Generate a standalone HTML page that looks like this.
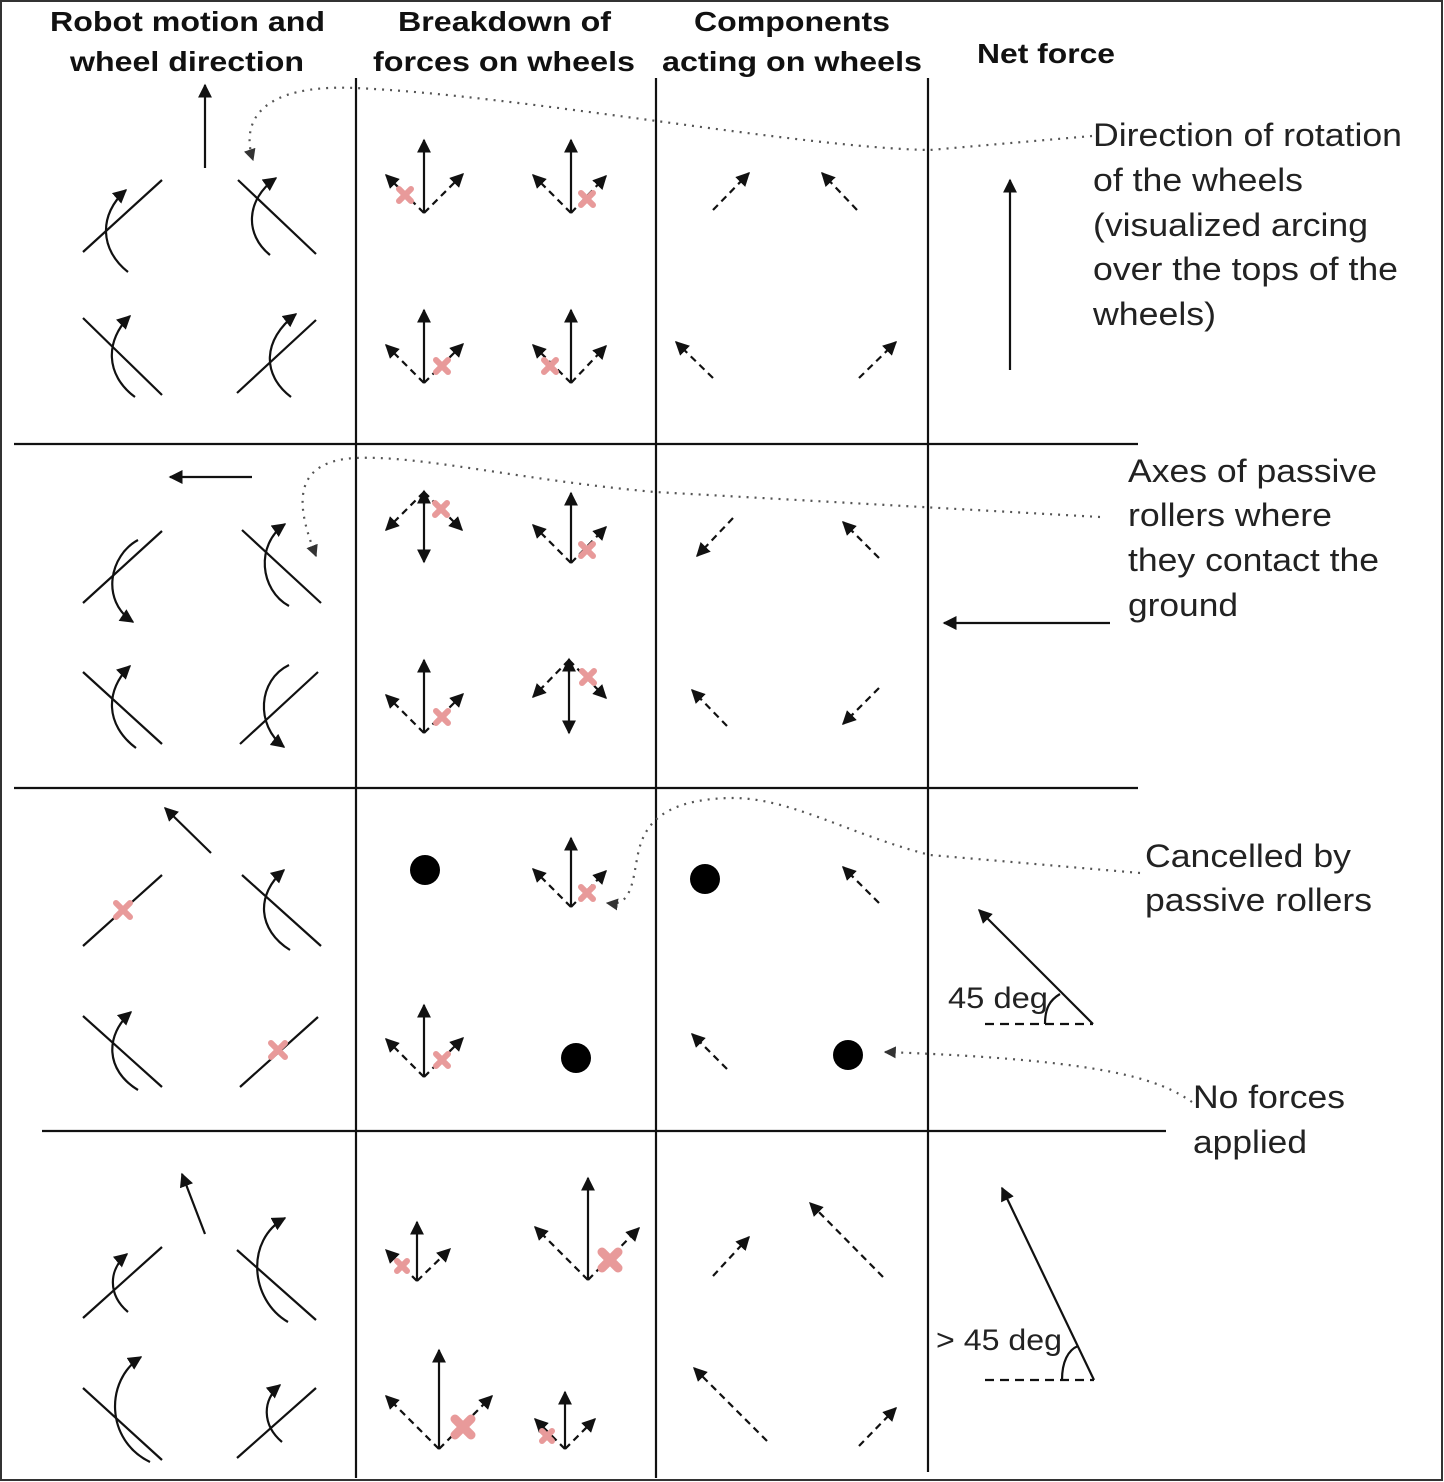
<!DOCTYPE html>
<html><head><meta charset="utf-8"><style>
html,body{margin:0;padding:0;background:#fff;}
svg{display:block;}
.h{font-family:"Liberation Sans",sans-serif;font-weight:bold;font-size:28px;fill:#111;}
.t{font-family:"Liberation Sans",sans-serif;font-size:32px;fill:#222;}
.s{font-family:"Liberation Sans",sans-serif;font-size:30px;fill:#222;}
.ln{stroke:#111;stroke-width:2.2;fill:none;}
.ar{stroke:#111;stroke-width:2.2;fill:none;marker-end:url(#ah);}
.da{stroke:#111;stroke-width:2.2;fill:none;stroke-dasharray:7,5;marker-end:url(#ah);}
.dot{stroke:#555;stroke-width:2.2;fill:none;stroke-dasharray:2,6;}
.px{stroke:#e89a9a;stroke-width:6;stroke-linecap:round;}
.pxl{stroke:#e89a9a;stroke-width:9;stroke-linecap:round;}
</style></head><body>
<svg width="1444" height="1482" viewBox="0 0 1444 1482" xmlns="http://www.w3.org/2000/svg">
<defs>
<marker id="ah" viewBox="0 0 10 10" refX="9" refY="5" markerWidth="14" markerHeight="14" markerUnits="userSpaceOnUse" orient="auto"><path d="M0,0 L10,5 L0,10 z" fill="#111"/></marker>
<marker id="ah2" viewBox="0 0 10 10" refX="9" refY="5" markerWidth="12" markerHeight="12" markerUnits="userSpaceOnUse" orient="auto"><path d="M0,0 L10,5 L0,10 z" fill="#333"/></marker>
</defs>
<rect x="1" y="1" width="1441" height="1479" fill="none" stroke="#333" stroke-width="2"/>
<!-- headers -->
<text class="h" x="50" y="31" textLength="275" lengthAdjust="spacingAndGlyphs">Robot motion and</text>
<text class="h" x="70" y="71" textLength="234" lengthAdjust="spacingAndGlyphs">wheel direction</text>
<text class="h" x="398" y="31" textLength="213" lengthAdjust="spacingAndGlyphs">Breakdown of</text>
<text class="h" x="373" y="71" textLength="262" lengthAdjust="spacingAndGlyphs">forces on wheels</text>
<text class="h" x="694" y="31" textLength="196" lengthAdjust="spacingAndGlyphs">Components</text>
<text class="h" x="662" y="71" textLength="260" lengthAdjust="spacingAndGlyphs">acting on wheels</text>
<text class="h" x="977" y="63" textLength="138" lengthAdjust="spacingAndGlyphs">Net force</text>
<!-- grid -->
<line class="ln" x1="356" y1="78" x2="356" y2="1478"/>
<line class="ln" x1="656" y1="78" x2="656" y2="1478"/>
<line class="ln" x1="928" y1="78" x2="928" y2="1472"/>
<line class="ln" x1="14" y1="444" x2="1138" y2="444"/>
<line class="ln" x1="14" y1="788" x2="1138" y2="788"/>
<line class="ln" x1="42" y1="1131" x2="1166" y2="1131"/>

<!-- ROW 1 wheels -->
<line class="ar" x1="205" y1="168" x2="205" y2="85"/>
<line class="ln" x1="83" y1="252" x2="162" y2="180"/>
<path class="ar" d="M128,272 C100,250 98,215 126,190"/>
<line class="ln" x1="238" y1="180" x2="316" y2="254"/>
<path class="ar" d="M270,255 C245,235 245,200 276,178"/>
<line class="ln" x1="83" y1="318" x2="162" y2="395"/>
<path class="ar" d="M135,397 C105,375 105,340 130,316"/>
<line class="ln" x1="237" y1="393" x2="316" y2="320"/>
<path class="ar" d="M291,397 C262,375 262,340 296,314"/>
<!-- ROW 2 wheels -->
<line class="ar" x1="252" y1="477" x2="170" y2="477"/>
<line class="ln" x1="83" y1="603" x2="162" y2="531"/>
<path class="ar" d="M138,540 C110,555 100,600 133,622"/>
<line class="ln" x1="242" y1="530" x2="321" y2="603"/>
<path class="ar" d="M289,606 C260,590 255,545 285,524"/>
<line class="ln" x1="83" y1="672" x2="162" y2="744"/>
<path class="ar" d="M136,748 C105,725 105,690 130,666"/>
<line class="ln" x1="240" y1="744" x2="318" y2="672"/>
<path class="ar" d="M289,665 C258,680 255,725 284,747"/>
<!-- ROW 3 wheels -->
<line class="ar" x1="211" y1="853" x2="165" y2="808"/>
<line class="ln" x1="83" y1="946" x2="162" y2="875"/>
<g class="px"><line x1="116" y1="903" x2="130" y2="917"/><line x1="130" y1="903" x2="116" y2="917"/></g>
<line class="ln" x1="242" y1="875" x2="321" y2="946"/>
<path class="ar" d="M290,950 C258,930 255,895 284,870"/>
<line class="ln" x1="83" y1="1016" x2="162" y2="1087"/>
<path class="ar" d="M138,1090 C105,1070 105,1035 131,1012"/>
<line class="ln" x1="240" y1="1087" x2="318" y2="1017"/>
<g class="px"><line x1="271" y1="1043" x2="285" y2="1057"/><line x1="285" y1="1043" x2="271" y2="1057"/></g>
<!-- ROW 4 wheels -->
<line class="ar" x1="205" y1="1234" x2="182" y2="1174"/>
<line class="ln" x1="83" y1="1318" x2="162" y2="1247"/>
<path class="ar" d="M128,1312 C108,1295 108,1270 127,1254"/>
<line class="ln" x1="237" y1="1250" x2="316" y2="1320"/>
<path class="ar" d="M288,1322 C250,1300 245,1240 285,1218"/>
<line class="ln" x1="83" y1="1388" x2="162" y2="1460"/>
<path class="ar" d="M150,1462 C105,1440 105,1380 141,1357"/>
<line class="ln" x1="237" y1="1458" x2="316" y2="1388"/>
<path class="ar" d="M282,1442 C262,1425 262,1400 280,1385"/>

<!-- BREAKDOWN clusters -->
<line class="ar" x1="424" y1="213" x2="424" y2="140"/><line class="da" x1="424" y1="213" x2="386" y2="175"/><line class="da" x1="424" y1="213" x2="463" y2="174"/>
<g class="px"><line x1="399" y1="189" x2="411" y2="201"/><line x1="411" y1="189" x2="399" y2="201"/></g>
<line class="ar" x1="571" y1="213" x2="571" y2="140"/><line class="da" x1="571" y1="213" x2="533" y2="175"/><line class="da" x1="571" y1="213" x2="606" y2="176"/>
<g class="px"><line x1="581" y1="193" x2="593" y2="205"/><line x1="593" y1="193" x2="581" y2="205"/></g>
<line class="ar" x1="424" y1="383" x2="424" y2="310"/><line class="da" x1="424" y1="383" x2="386" y2="345"/><line class="da" x1="424" y1="383" x2="463" y2="344"/>
<g class="px"><line x1="436" y1="360" x2="448" y2="372"/><line x1="448" y1="360" x2="436" y2="372"/></g>
<line class="ar" x1="571" y1="383" x2="571" y2="310"/><line class="da" x1="571" y1="383" x2="533" y2="345"/><line class="da" x1="571" y1="383" x2="606" y2="346"/>
<g class="px"><line x1="544" y1="360" x2="556" y2="372"/><line x1="556" y1="360" x2="544" y2="372"/></g>
<line class="ar" x1="424" y1="500" x2="424" y2="562"/><line class="ar" x1="424" y1="505" x2="424" y2="491"/>
<line class="da" x1="424" y1="492" x2="386" y2="530"/><line class="da" x1="424" y1="492" x2="462" y2="530"/>
<g class="px"><line x1="435" y1="503" x2="447" y2="515"/><line x1="447" y1="503" x2="435" y2="515"/></g>
<line class="ar" x1="571" y1="563" x2="571" y2="493"/><line class="da" x1="571" y1="563" x2="533" y2="525"/><line class="da" x1="571" y1="563" x2="606" y2="527"/>
<g class="px"><line x1="581" y1="544" x2="593" y2="556"/><line x1="593" y1="544" x2="581" y2="556"/></g>
<line class="ar" x1="424" y1="733" x2="424" y2="660"/><line class="da" x1="424" y1="733" x2="386" y2="695"/><line class="da" x1="424" y1="733" x2="463" y2="694"/>
<g class="px"><line x1="436" y1="711" x2="448" y2="723"/><line x1="448" y1="711" x2="436" y2="723"/></g>
<line class="ar" x1="569" y1="668" x2="569" y2="733"/><line class="ar" x1="569" y1="673" x2="569" y2="659"/>
<line class="da" x1="569" y1="660" x2="533" y2="697"/><line class="da" x1="569" y1="660" x2="606" y2="698"/>
<g class="px"><line x1="582" y1="671" x2="594" y2="683"/><line x1="594" y1="671" x2="582" y2="683"/></g>
<circle cx="425" cy="870" r="15" fill="#000"/>
<line class="ar" x1="571" y1="907" x2="571" y2="838"/><line class="da" x1="571" y1="907" x2="533" y2="869"/><line class="da" x1="571" y1="907" x2="606" y2="871"/>
<g class="px"><line x1="581" y1="887" x2="593" y2="899"/><line x1="593" y1="887" x2="581" y2="899"/></g>
<line class="ar" x1="424" y1="1077" x2="424" y2="1005"/><line class="da" x1="424" y1="1077" x2="386" y2="1039"/><line class="da" x1="424" y1="1077" x2="463" y2="1038"/>
<g class="px"><line x1="436" y1="1054" x2="448" y2="1066"/><line x1="448" y1="1054" x2="436" y2="1066"/></g>
<circle cx="576" cy="1058" r="15" fill="#000"/>
<line class="ar" x1="417" y1="1281" x2="417" y2="1222"/><line class="da" x1="417" y1="1281" x2="386" y2="1250"/><line class="da" x1="417" y1="1281" x2="450" y2="1249"/>
<g class="px"><line x1="397" y1="1261" x2="407" y2="1271"/><line x1="407" y1="1261" x2="397" y2="1271"/></g>
<line class="ar" x1="588" y1="1280" x2="588" y2="1178"/><line class="da" x1="588" y1="1280" x2="535" y2="1227"/><line class="da" x1="588" y1="1280" x2="639" y2="1228"/>
<g class="pxl"><line x1="602" y1="1252" x2="618" y2="1268"/><line x1="618" y1="1252" x2="602" y2="1268"/></g>
<line class="ar" x1="439" y1="1449" x2="439" y2="1350"/><line class="da" x1="439" y1="1449" x2="386" y2="1396"/><line class="da" x1="439" y1="1449" x2="492" y2="1396"/>
<g class="pxl"><line x1="455" y1="1419" x2="471" y2="1435"/><line x1="471" y1="1419" x2="455" y2="1435"/></g>
<line class="ar" x1="565" y1="1449" x2="565" y2="1392"/><line class="da" x1="565" y1="1449" x2="535" y2="1419"/><line class="da" x1="565" y1="1449" x2="595" y2="1419"/>
<g class="px"><line x1="542" y1="1431" x2="552" y2="1441"/><line x1="552" y1="1431" x2="542" y2="1441"/></g>

<!-- COMPONENTS -->
<line class="da" x1="713" y1="210" x2="749" y2="173"/>
<line class="da" x1="857" y1="210" x2="822" y2="173"/>
<line class="da" x1="713" y1="378" x2="676" y2="342"/>
<line class="da" x1="859" y1="378" x2="896" y2="342"/>
<line class="da" x1="733" y1="518" x2="697" y2="556"/>
<line class="da" x1="879" y1="558" x2="843" y2="522"/>
<line class="da" x1="727" y1="726" x2="692" y2="690"/>
<line class="da" x1="879" y1="688" x2="843" y2="724"/>
<circle cx="705" cy="879" r="15" fill="#000"/>
<line class="da" x1="879" y1="903" x2="843" y2="867"/>
<line class="da" x1="727" y1="1069" x2="692" y2="1034"/>
<circle cx="848" cy="1055" r="15" fill="#000"/>
<line class="da" x1="713" y1="1276" x2="749" y2="1237"/>
<line class="da" x1="883" y1="1277" x2="810" y2="1203"/>
<line class="da" x1="767" y1="1441" x2="694" y2="1368"/>
<line class="da" x1="859" y1="1446" x2="896" y2="1408"/>

<!-- NET FORCE -->
<line class="ar" x1="1010" y1="370" x2="1010" y2="180"/>
<line class="ar" x1="1110" y1="623" x2="944" y2="623"/>
<line class="ar" x1="1093" y1="1024" x2="979" y2="910"/>
<line class="ln" x1="985" y1="1024" x2="1093" y2="1024" stroke-dasharray="9,6"/>
<path class="ln" d="M1045,1024 C1045,1008 1050,1000 1060,994" stroke-width="1.5"/>
<text class="s" x="948" y="1008" textLength="100" lengthAdjust="spacingAndGlyphs">45 deg</text>
<line class="ar" x1="1094" y1="1380" x2="1002" y2="1188"/>
<line class="ln" x1="985" y1="1380" x2="1094" y2="1380" stroke-dasharray="9,6"/>
<path class="ln" d="M1062,1380 C1062,1362 1068,1350 1078,1346" stroke-width="1.5"/>
<text class="s" x="936" y="1350" textLength="126" lengthAdjust="spacingAndGlyphs">&gt; 45 deg</text>

<!-- ANNOTATIONS -->
<text class="t" x="1093" y="146" textLength="309" lengthAdjust="spacingAndGlyphs">Direction of rotation</text>
<text class="t" x="1093" y="191" textLength="210" lengthAdjust="spacingAndGlyphs">of the wheels</text>
<text class="t" x="1093" y="236" textLength="275" lengthAdjust="spacingAndGlyphs">(visualized arcing</text>
<text class="t" x="1093" y="280" textLength="305" lengthAdjust="spacingAndGlyphs">over the tops of the</text>
<text class="t" x="1093" y="325" textLength="123" lengthAdjust="spacingAndGlyphs">wheels)</text>
<text class="t" x="1128" y="482" textLength="249" lengthAdjust="spacingAndGlyphs">Axes of passive</text>
<text class="t" x="1128" y="526" textLength="204" lengthAdjust="spacingAndGlyphs">rollers where</text>
<text class="t" x="1128" y="571" textLength="251" lengthAdjust="spacingAndGlyphs">they contact the</text>
<text class="t" x="1128" y="616" textLength="110" lengthAdjust="spacingAndGlyphs">ground</text>
<text class="t" x="1145" y="867" textLength="206" lengthAdjust="spacingAndGlyphs">Cancelled by</text>
<text class="t" x="1145" y="911" textLength="227" lengthAdjust="spacingAndGlyphs">passive rollers</text>
<text class="t" x="1193" y="1108" textLength="152" lengthAdjust="spacingAndGlyphs">No forces</text>
<text class="t" x="1193" y="1153" textLength="114" lengthAdjust="spacingAndGlyphs">applied</text>

<!-- dotted connectors -->
<path class="dot" marker-end="url(#ah2)" d="M1092,136 L930,150 C800,148 520,95 355,88 C262,84 240,120 253,160"/>
<path class="dot" marker-end="url(#ah2)" d="M1100,517 L655,492 C520,480 420,455 355,458 C285,462 300,515 316,556"/>
<path class="dot" marker-end="url(#ah2)" d="M1140,873 L930,855 C850,835 790,797 730,798 C640,800 640,845 635,870 C630,900 622,905 607,903"/>
<path class="dot" marker-end="url(#ah2)" d="M1192,1102 C1160,1080 1110,1060 885,1052"/>
</svg>
</body></html>
